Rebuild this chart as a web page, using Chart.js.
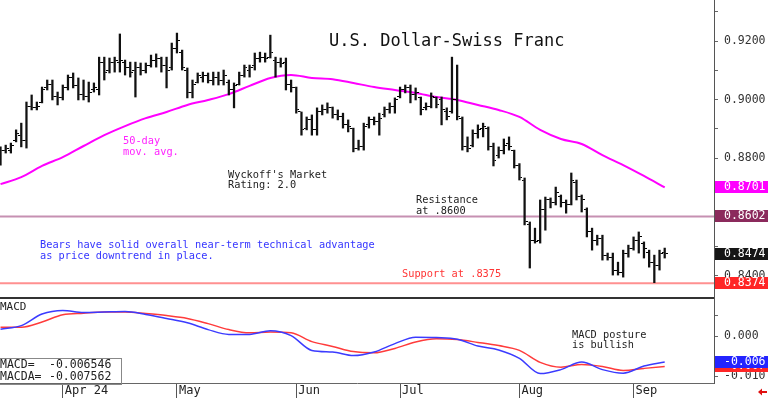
<!DOCTYPE html>
<html>
<head>
<meta charset="utf-8">
<script src="https://cdn.jsdelivr.net/npm/chart.js@4.4.1/dist/chart.umd.min.js"></script>
<style>
html, body { margin: 0; padding: 0; background: #fff; }
#wrap { position: relative; width: 768px; height: 398px; overflow: hidden; background: #fff; }
#price { position: absolute; left: 0; top: 0; }
#macd { position: absolute; left: 0; top: 299px; }
</style>
</head>
<body>
<div id="wrap">
  <canvas id="price" width="768" height="299" style="width:768px;height:299px"></canvas>
  <canvas id="macd" width="768" height="99" style="width:768px;height:99px"></canvas>
</div>
<script>
// daily bars, mid March to early September
var highs = [
  0.8839, 0.8845, 0.8852, 0.8897, 0.8920, 0.8992, 0.9016, 0.8992, 0.9043, 0.9067,
  0.9067, 0.9026, 0.9050, 0.9084, 0.9091, 0.9074, 0.9067, 0.9060, 0.9057, 0.9145,
  0.9145, 0.9142, 0.9145, 0.9224, 0.9135, 0.9128, 0.9128, 0.9125, 0.9125, 0.9152,
  0.9156, 0.9145, 0.9145, 0.9193, 0.9227, 0.9169, 0.9108, 0.9067, 0.9091, 0.9094,
  0.9091, 0.9094, 0.9094, 0.9101, 0.9067, 0.9057, 0.9094, 0.9118, 0.9118, 0.9159,
  0.9162, 0.9159, 0.9220, 0.9145, 0.9142, 0.9142, 0.9067, 0.9043, 0.8958, 0.8941,
  0.8948, 0.8972, 0.8982, 0.8989, 0.8975, 0.8965, 0.8954, 0.8931, 0.8903, 0.8862,
  0.8920, 0.8941, 0.8941, 0.8954, 0.8975, 0.8989, 0.9006, 0.9043, 0.9050, 0.9050,
  0.9040, 0.9009, 0.8989, 0.9023, 0.9009, 0.9009, 0.8972, 0.9145, 0.9118, 0.8941,
  0.8873, 0.8897, 0.8914, 0.8920, 0.8907, 0.8852, 0.8839, 0.8866, 0.8873, 0.8828,
  0.8782, 0.8733, 0.8583, 0.8562, 0.8658, 0.8668, 0.8665, 0.8702, 0.8675, 0.8658,
  0.8750, 0.8726, 0.8675, 0.8631, 0.8562, 0.8538, 0.8538, 0.8477, 0.8477, 0.8446,
  0.8487, 0.8504, 0.8532, 0.8549, 0.8515, 0.8487, 0.8470, 0.8487, 0.8494
];
var lows = [
  0.8777, 0.8818, 0.8818, 0.8856, 0.8839, 0.8835, 0.8965, 0.8965, 0.8989, 0.9033,
  0.8999, 0.8982, 0.8999, 0.9033, 0.9040, 0.8999, 0.8999, 0.8992, 0.9026, 0.9016,
  0.9067, 0.9091, 0.9094, 0.9094, 0.9084, 0.9077, 0.9009, 0.9084, 0.9091, 0.9111,
  0.9111, 0.9094, 0.9040, 0.9101, 0.9159, 0.9101, 0.9006, 0.9006, 0.9057, 0.9060,
  0.9057, 0.9050, 0.9050, 0.9050, 0.9016, 0.8972, 0.9050, 0.9077, 0.9077, 0.9101,
  0.9128, 0.9128, 0.9142, 0.9077, 0.9111, 0.9033, 0.9026, 0.8954, 0.8879, 0.8897,
  0.8879, 0.8879, 0.8948, 0.8954, 0.8937, 0.8931, 0.8903, 0.8890, 0.8822, 0.8828,
  0.8828, 0.8903, 0.8914, 0.8879, 0.8941, 0.8954, 0.8954, 0.9006, 0.9023, 0.8989,
  0.8999, 0.8948, 0.8965, 0.8972, 0.8972, 0.8914, 0.8931, 0.8954, 0.8931, 0.8828,
  0.8822, 0.8839, 0.8869, 0.8873, 0.8828, 0.8774, 0.8801, 0.8815, 0.8828, 0.8767,
  0.8726, 0.8573, 0.8426, 0.8511, 0.8511, 0.8555, 0.8631, 0.8641, 0.8634, 0.8613,
  0.8641, 0.8658, 0.8617, 0.8532, 0.8487, 0.8504, 0.8453, 0.8453, 0.8402, 0.8402,
  0.8395, 0.8463, 0.8487, 0.8477, 0.8460, 0.8429, 0.8376, 0.8419, 0.8460
];
var opens = [
  0.8787, 0.8828, 0.8828, 0.8862, 0.8879, 0.8862, 0.8978, 0.8972, 0.8990, 0.9040,
  0.9053, 0.9012, 0.9006, 0.9040, 0.9074, 0.9050, 0.9016, 0.9012, 0.9033, 0.9033,
  0.9128, 0.9101, 0.9128, 0.9128, 0.9128, 0.9108, 0.9101, 0.9108, 0.9101, 0.9118,
  0.9135, 0.9142, 0.9115, 0.9108, 0.9176, 0.9162, 0.9101, 0.9023, 0.9060, 0.9074,
  0.9081, 0.9067, 0.9074, 0.9067, 0.9060, 0.9033, 0.9053, 0.9084, 0.9101, 0.9115,
  0.9142, 0.9145, 0.9145, 0.9135, 0.9128, 0.9128, 0.9053, 0.9040, 0.8958, 0.8903,
  0.8931, 0.8897, 0.8958, 0.8965, 0.8972, 0.8951, 0.8944, 0.8917, 0.8903, 0.8835,
  0.8842, 0.8917, 0.8931, 0.8927, 0.8951, 0.8965, 0.8978, 0.9012, 0.9033, 0.9040,
  0.9016, 0.9006, 0.8972, 0.8978, 0.9006, 0.8999, 0.8958, 0.8958, 0.8999, 0.8937,
  0.8842, 0.8845, 0.8883, 0.8903, 0.8900, 0.8842, 0.8808, 0.8828, 0.8852, 0.8828,
  0.8777, 0.8726, 0.8573, 0.8521, 0.8521, 0.8624, 0.8658, 0.8651, 0.8671, 0.8648,
  0.8644, 0.8719, 0.8671, 0.8624, 0.8549, 0.8521, 0.8528, 0.8467, 0.8463, 0.8419,
  0.8412, 0.8474, 0.8494, 0.8521, 0.8508, 0.8480, 0.8446, 0.8436, 0.8480
];
var closes = [
  0.8828, 0.8835, 0.8845, 0.8886, 0.8862, 0.8978, 0.8972, 0.8978, 0.9033, 0.9053,
  0.9012, 0.9006, 0.9040, 0.9074, 0.9050, 0.9016, 0.9012, 0.9026, 0.9040, 0.9128,
  0.9094, 0.9128, 0.9135, 0.9135, 0.9108, 0.9094, 0.9108, 0.9101, 0.9115, 0.9135,
  0.9142, 0.9115, 0.9101, 0.9176, 0.9203, 0.9108, 0.9023, 0.9053, 0.9081, 0.9081,
  0.9067, 0.9074, 0.9067, 0.9081, 0.9033, 0.9047, 0.9084, 0.9108, 0.9108, 0.9142,
  0.9145, 0.9139, 0.9162, 0.9128, 0.9122, 0.9053, 0.9040, 0.8965, 0.8897, 0.8931,
  0.8897, 0.8958, 0.8965, 0.8972, 0.8951, 0.8944, 0.8917, 0.8910, 0.8835, 0.8842,
  0.8910, 0.8931, 0.8927, 0.8937, 0.8965, 0.8978, 0.8999, 0.9033, 0.9040, 0.9016,
  0.9026, 0.8965, 0.8978, 0.9012, 0.8985, 0.8965, 0.8944, 0.8999, 0.8944, 0.8842,
  0.8835, 0.8883, 0.8897, 0.8910, 0.8842, 0.8794, 0.8828, 0.8845, 0.8842, 0.8777,
  0.8733, 0.8583, 0.8521, 0.8518, 0.8624, 0.8658, 0.8648, 0.8685, 0.8648, 0.8641,
  0.8726, 0.8671, 0.8658, 0.8549, 0.8521, 0.8528, 0.8467, 0.8463, 0.8419, 0.8412,
  0.8474, 0.8494, 0.8521, 0.8532, 0.8494, 0.8446, 0.8436, 0.8474, 0.8474
];

// 50-day moving average, read every 4th bar
var maIdx = [0, 4, 8, 12, 16, 20, 24, 28, 32, 36, 40, 44, 48, 52, 56, 60, 64,
  68, 72, 76, 80, 84, 88, 92, 96, 100, 104, 108, 112, 116, 120, 124, 128];
var maVals = [
  0.8712, 0.8736, 0.8774, 0.8804, 0.8842, 0.8879, 0.8910, 0.8937, 0.8958, 0.8982,
  0.8999, 0.9019, 0.9047, 0.9074, 0.9084, 0.9074, 0.9070, 0.9057, 0.9043, 0.9033,
  0.9023, 0.9009, 0.8999, 0.8982, 0.8965, 0.8941, 0.8897, 0.8866, 0.8849, 0.8811,
  0.8777, 0.8740, 0.8701
];

// MACD and its average (MACDA), same bar positions as the MA
var macdIdx = maIdx;
var macdVals = [
  0.0017, 0.0026, 0.0055, 0.0064, 0.0059, 0.0060, 0.0061, 0.0054, 0.0044, 0.0033,
  0.0016, 0.0004, 0.0004, 0.0013, 0.0001, -0.0036, -0.0040, -0.0049, -0.0040, -0.0019,
  -0.0003, -0.0004, -0.0008, -0.0025, -0.0035, -0.0056, -0.0094, -0.0084, -0.0065, -0.0084,
  -0.0093, -0.0075, -0.0065
];
var signalVals = [
  0.0022, 0.0022, 0.0035, 0.0053, 0.0057, 0.0060, 0.0060, 0.0056, 0.0051, 0.0044,
  0.0031, 0.0016, 0.0008, 0.0010, 0.0008, -0.0014, -0.0026, -0.0039, -0.0042, -0.0031,
  -0.0015, -0.0007, -0.0009, -0.0016, -0.0024, -0.0036, -0.0066, -0.0078, -0.0071, -0.0076,
  -0.0086, -0.0081, -0.0076
];
var macdLast = -0.006546;
var macdaLast = -0.007562;

var resistanceLevel = 0.8602;
var supportLevel = 0.8374;

var monthTickIdx = [12, 34, 57, 77, 100, 122];
var monthLabels = ['Apr 24', 'May', 'Jun', 'Jul', 'Aug', 'Sep'];

var MONO = "'DejaVu Sans Mono', 'Liberation Mono', monospace";
var X_MIN = -0.1, X_MAX = 137.5;

// little open / close ticks used as point images
function tickImage(left) {
    var c = document.createElement('canvas');
    c.width = 6; c.height = 1;
    var g = c.getContext('2d');
    g.fillStyle = '#000';
    g.fillRect(left ? 0 : 4, 0, 2, 1);
    return c;
}
var openTick = tickImage(true);
var closeTick = tickImage(false);

function txt(ctx, s, x, y, color, size) {
    ctx.fillStyle = color;
    ctx.font = size + 'px ' + MONO;
    ctx.textAlign = 'left';
    ctx.textBaseline = 'alphabetic';
    ctx.fillText(s, x, y);
}

function valueBox(ctx, yScale, v, bg, label, right) {
    var py = Math.round(yScale.getPixelForValue(v));
    ctx.fillStyle = bg;
    ctx.fillRect(right + 1, py - 6, 768 - right - 1, 12);
    ctx.fillStyle = '#fff';
    ctx.font = '11.5px ' + MONO;
    ctx.textAlign = 'left';
    ctx.textBaseline = 'middle';
    ctx.fillText(label, 724, py + 0.5);
}

function truncLabel(v) {
    return (Math.trunc(v * 1000) / 1000).toFixed(3);
}

// keep the plot area flush with the canvas edges
function fixRightAxis(s) {
    s.width = 54;
    s.paddingTop = 0;
    s.paddingBottom = 0;
}

var priceNotes = {
    id: 'priceNotes',
    afterDraw: function (chart) {
        var ctx = chart.ctx, area = chart.chartArea, y = chart.scales.y;
        ctx.save();
        ctx.fillStyle = '#333';
        ctx.fillRect(0, 297, area.right, 2);

        txt(ctx, 'U.S. Dollar-Swiss Franc', 329, 45.5, '#111', 17);
        txt(ctx, '50-day', 123, 144, '#ff22ff', 10.3);
        txt(ctx, 'mov. avg.', 123, 154.5, '#ff22ff', 10.3);
        txt(ctx, "Wyckoff's Market", 228, 177.5, '#222', 10.3);
        txt(ctx, 'Rating: 2.0', 228, 188, '#222', 10.3);
        txt(ctx, 'Resistance', 416, 203, '#222', 10.3);
        txt(ctx, 'at .8600', 416, 213.5, '#222', 10.3);
        txt(ctx, 'Bears have solid overall near-term technical advantage', 40, 248.3, '#3535ff', 10.3);
        txt(ctx, 'as price downtrend in place.', 40, 258.8, '#3535ff', 10.3);
        txt(ctx, 'Support at .8375', 402, 276.7, '#ff3535', 10.3);

        var r = area.right;
        valueBox(ctx, y, maVals[maVals.length - 1], '#ff00ff', maVals[maVals.length - 1].toFixed(4), r);
        valueBox(ctx, y, resistanceLevel, '#8b2a5c', resistanceLevel.toFixed(4), r);
        valueBox(ctx, y, closes[closes.length - 1], '#161616', closes[closes.length - 1].toFixed(4), r);
        valueBox(ctx, y, supportLevel, '#ff2626', supportLevel.toFixed(4), r);
        ctx.restore();
    }
};

var macdNotes = {
    id: 'macdNotes',
    afterDraw: function (chart) {
        var ctx = chart.ctx, area = chart.chartArea, y = chart.scales.y;
        ctx.save();
        txt(ctx, 'MACD', 0, 11, '#222', 11);
        txt(ctx, 'MACD posture', 572, 38.5, '#222', 10.3);
        txt(ctx, 'is bullish', 572, 48.5, '#222', 10.3);

        ctx.fillStyle = '#fff';
        ctx.fillRect(0, 60, 121, 24);
        ctx.strokeStyle = '#888';
        ctx.lineWidth = 1;
        ctx.strokeRect(-1.5, 59.5, 123, 26);
        txt(ctx, 'MACD=', 0, 68.5, '#222', 11.5);
        txt(ctx, macdLast.toFixed(6), 49, 68.5, '#222', 11.5);
        txt(ctx, 'MACDA=', 0, 81, '#222', 11.5);
        txt(ctx, macdaLast.toFixed(6), 49, 81, '#222', 11.5);

        var r = area.right;
        valueBox(ctx, y, macdaLast, '#ff2626', truncLabel(macdaLast), r);
        valueBox(ctx, y, macdLast, '#2424ff', truncLabel(macdLast), r);

        // small red arrow, bottom right
        ctx.fillStyle = '#e01010';
        ctx.beginPath();
        ctx.moveTo(758, 93);
        ctx.lineTo(762, 89.5);
        ctx.lineTo(762, 96.5);
        ctx.closePath();
        ctx.fill();
        ctx.fillRect(761, 92, 6, 2);
        ctx.restore();
    }
};

var barData = highs.map(function (h, i) { return { x: i, y: [lows[i], h] }; });
var openData = opens.map(function (v, i) { return { x: i, y: v }; });
var closeData = closes.map(function (v, i) { return { x: i, y: v }; });
var maData = maIdx.map(function (x, i) { return { x: x, y: maVals[i] }; });

new Chart(document.getElementById('price'), {
    type: 'scatter',
    data: {
        datasets: [
            { type: 'scatter', data: openData, pointStyle: openTick, pointRadius: 3, order: 1 },
            { type: 'scatter', data: closeData, pointStyle: closeTick, pointRadius: 3, order: 1 },
            { type: 'bar', data: barData, backgroundColor: '#111', borderWidth: 0, barThickness: 1.6, order: 2 },
            { type: 'line', data: maData, borderColor: '#ff00ff', borderWidth: 2, pointRadius: 0,
              cubicInterpolationMode: 'monotone', order: 3 },
            { type: 'line', data: [{ x: X_MIN, y: resistanceLevel }, { x: X_MAX, y: resistanceLevel }],
              borderColor: '#c690b2', borderWidth: 2, pointRadius: 0, order: 4 },
            { type: 'line', data: [{ x: X_MIN, y: supportLevel }, { x: X_MAX, y: supportLevel }],
              borderColor: '#ff9090', borderWidth: 2, pointRadius: 0, order: 4 }
        ]
    },
    options: {
        responsive: false,
        animation: false,
        events: [],
        devicePixelRatio: 1,
        layout: { autoPadding: false, padding: { left: 0, right: 0, top: 0, bottom: 1 } },
        plugins: { legend: { display: false }, tooltip: { enabled: false } },
        scales: {
            x: { type: 'linear', display: false, min: X_MIN, max: X_MAX, offset: false },
            y: {
                type: 'linear', position: 'right', min: 0.83238, max: 0.93398,
                afterFit: fixRightAxis,
                grid: { drawOnChartArea: false, drawTicks: true, tickLength: 4, color: '#666' },
                border: { display: true, color: '#555', width: 1 },
                ticks: {
                    stepSize: 0.01, includeBounds: false, padding: 6, color: '#333',
                    font: { family: MONO, size: 11.5 },
                    callback: function (v) { return Math.round(v * 100) % 2 === 0 ? v.toFixed(4) : ''; }
                }
            }
        }
    },
    plugins: [priceNotes]
});

var macdData = macdIdx.map(function (x, i) { return { x: x, y: macdVals[i] }; });
var signalData = macdIdx.map(function (x, i) { return { x: x, y: signalVals[i] }; });

new Chart(document.getElementById('macd'), {
    type: 'scatter',
    data: {
        datasets: [
            { type: 'line', data: macdData, borderColor: '#3b3bff', borderWidth: 1.5, pointRadius: 0,
              cubicInterpolationMode: 'monotone', order: 1 },
            { type: 'line', data: signalData, borderColor: '#ff3b3b', borderWidth: 1.5, pointRadius: 0,
              cubicInterpolationMode: 'monotone', order: 2 }
        ]
    },
    options: {
        responsive: false,
        animation: false,
        events: [],
        devicePixelRatio: 1,
        layout: { autoPadding: false, padding: 0 },
        plugins: { legend: { display: false }, tooltip: { enabled: false } },
        scales: {
            x: {
                type: 'linear', position: 'bottom', min: X_MIN, max: X_MAX, offset: false,
                afterBuildTicks: function (s) { s.ticks = monthTickIdx.map(function (v) { return { value: v }; }); },
                afterFit: function (s) { s.height = 15; s.paddingLeft = 0; s.paddingRight = 0; },
                grid: { drawOnChartArea: false, drawTicks: true, tickLength: 15, color: '#555' },
                border: { display: true, color: '#666', width: 1 },
                ticks: {
                    autoSkip: false, maxRotation: 0, minRotation: 0, align: 'start', labelOffset: 2,
                    padding: -14, color: '#222', font: { family: MONO, size: 12 },
                    callback: function (v, i) { return monthLabels[i]; }
                }
            },
            y: {
                type: 'linear', position: 'right', min: -0.01175, max: 0.00925,
                afterFit: fixRightAxis,
                grid: { drawOnChartArea: false, drawTicks: true, tickLength: 4, color: '#666' },
                border: { display: true, color: '#555', width: 1 },
                ticks: {
                    stepSize: 0.005, includeBounds: false, padding: 6, color: '#333',
                    font: { family: MONO, size: 11.5 },
                    callback: function (v) { return Math.round(v * 1000) % 10 === 0 ? v.toFixed(3) : ''; }
                }
            }
        }
    },
    plugins: [macdNotes]
});
</script>
</body>
</html>
